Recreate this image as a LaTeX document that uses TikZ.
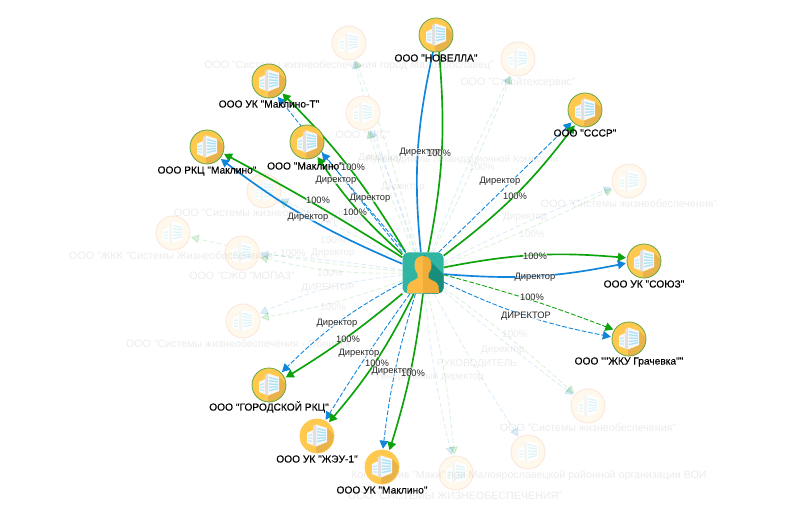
\documentclass[tikz,border=0pt]{standalone}
\usepackage{fontspec}
\setmainfont{Liberation Sans}
\newfontfamily\strongfont[FakeBold=0.12]{Liberation Sans}
\usetikzlibrary{arrows.meta}
\definecolor{gline}{HTML}{0CA20C}
\definecolor{bline}{HTML}{0F85DC}
\definecolor{disk}{HTML}{FFC84F}
\definecolor{diskdark}{HTML}{E8B34A}
\definecolor{ring}{HTML}{62A844}
\definecolor{teal}{HTML}{30B5A2}
\definecolor{tealdark}{HTML}{178D7C}
\definecolor{skin}{HTML}{FDBB45}
\definecolor{skindark}{HTML}{F0AB38}
\definecolor{palefill}{HTML}{FFF8EC}
\definecolor{palering}{HTML}{FCE8DC}
\definecolor{palewin}{HTML}{DDF4F8}
\definecolor{paleside}{HTML}{F6F6F4}
\tikzset{
  x=.75pt,y=-.75pt,
  hub/.style={circle,inner sep=0pt,outer sep=0pt,minimum size=27.5pt},
  tip/.style={-{Triangle[length=6pt,width=6.5pt]}},
  greensolid/.style={tip,draw=gline,line width=1.25pt},
  bluesolid/.style={tip,draw=bline,line width=1.25pt},
  bluedash/.style={tip,draw=bline,line width=.65pt,dash pattern=on 3.5pt off 1.5pt},
  greendash/.style={tip,draw=gline,line width=.65pt,dash pattern=on 3.5pt off 1.5pt},
  fadeblue/.style={tip,draw=bline,line width=.65pt,dash pattern=on 3.5pt off 2pt,opacity=.14},
  fadegreen/.style={tip,draw=gline,line width=.65pt,dash pattern=on 3.5pt off 2pt,opacity=.14},
  nlabel/.style={font=\strongfont\fontsize{7.65pt}{9pt}\selectfont,inner sep=0pt,text=black},
  elabel/.style={font=\fontsize{7pt}{8pt}\selectfont,inner sep=0pt,text=black!85,fill=white,fill opacity=.6,text opacity=1},
  fadelabel/.style={font=\fontsize{8pt}{9pt}\selectfont,inner sep=0pt,text=black,text opacity=.08},
  fadeelabel/.style={font=\fontsize{7.5pt}{8pt}\selectfont,inner sep=0pt,text=black,text opacity=.08},
  pics/bldg/.style={code={
    \fill[disk] (0,0) circle[radius=17];
    \begin{scope}
      \clip (0,0) circle[radius=17];
      \fill[diskdark] (10,-8) -- (24,6) -- (24,24) -- (-1,24) -- (-1,10.5) -- (10,6) -- cycle;
    \end{scope}
    \draw[#1,line width=.6pt] (0,0) circle[radius=17];
    \fill[black!3] (-10,-3) -- (-4,-6) -- (-4,-9) -- (-1,-11.5) -- (10,-8) -- (10,6) -- (-1,10.5) -- (-10,7) -- cycle;
    \fill[black!12] (-4,-9) -- (-1,-11.5) -- (-1,10.5) -- (-4,9.3) -- cycle;
    \draw[cyan!35,line width=.95pt] (0,-7.5) -- (9,-5.3);
    \draw[cyan!35,line width=.95pt] (0,-4.3) -- (9,-3);
    \draw[cyan!35,line width=.95pt] (0,-1) -- (9,-.6);
    \draw[cyan!35,line width=.95pt] (0,2.3) -- (9,1.6);
    \draw[cyan!35,line width=.95pt] (0,5.6) -- (9,3.6);
    \draw[cyan!30,line width=.8pt] (-9,-.5) -- (-5,-1.2);
    \draw[cyan!30,line width=.8pt] (-9,2.2) -- (-5,2);
    \draw[cyan!30,line width=.8pt] (-9,4.8) -- (-5,5.2);
  }},
  pics/palebldg/.style={code={
    \fill[palefill] (0,0) circle[radius=17];
    \draw[palering,line width=.7pt] (0,0) circle[radius=17];
    \fill[white] (-10,-3) -- (-4,-6) -- (-4,-9) -- (-1,-11.5) -- (10,-8) -- (10,6) -- (-1,10.5) -- (-10,7) -- cycle;
    \fill[paleside] (-4,-9) -- (-1,-11.5) -- (-1,10.5) -- (-4,9.3) -- cycle;
    \draw[palewin,line width=.95pt] (0,-7.5) -- (9,-5.3);
    \draw[palewin,line width=.95pt] (0,-4.3) -- (9,-3);
    \draw[palewin,line width=.95pt] (0,-1) -- (9,-.6);
    \draw[palewin,line width=.95pt] (0,2.3) -- (9,1.6);
    \draw[palewin,line width=.95pt] (0,5.6) -- (9,3.6);
    \draw[palewin,line width=.8pt] (-9,-.5) -- (-5,-1.2);
    \draw[palewin,line width=.8pt] (-9,2.2) -- (-5,2);
    \draw[palewin,line width=.8pt] (-9,4.8) -- (-5,5.2);
  }},
  pics/person/.style={code={
    \begin{scope}
      \clip[rounded corners=4pt] (-20.5,-20.5) rectangle (20.5,20.5);
      \fill[teal] (-21,-21) rectangle (21,21);
      \fill[tealdark] (1,-18) -- (21,2) -- (21,21) -- (0,21) -- cycle;
    \end{scope}
    \fill[skin] (0,-17) .. controls (-6,-17) and (-8.5,-13) .. (-8.5,-8) .. controls (-8.5,-4) and (-7,-1) .. (-5.5,1) -- (-5.5,5) .. controls (-9,8) and (-14,8) .. (-15.5,13) -- (-16,20) -- (0,20) -- cycle;
    \fill[skindark] (0,-17) .. controls (6,-17) and (8.5,-13) .. (8.5,-8) .. controls (8.5,-4) and (7,-1) .. (5.5,1) -- (5.5,5) .. controls (9,8) and (14,8) .. (15.5,13) -- (16,20) -- (0,20) -- cycle;
  }}
}
\begin{document}
\begin{tikzpicture}
\useasboundingbox (0,0) rectangle (800,524);
\fill[white] (0,0) rectangle (800,524);

% hub nodes
\node[inner sep=0pt,outer sep=0pt,minimum width=31pt,minimum height=31pt] (c) at (423,273) {};
\node[hub] (nov) at (436,35) {};
\node[hub] (sssr) at (585,110) {};
\node[hub] (soyuz) at (644,261) {};
\node[hub] (grach) at (629,339) {};
\node[hub] (makt) at (269,81) {};
\node[hub] (mak) at (307,142) {};
\node[hub] (rkc) at (207,147) {};
\node[hub] (gor) at (269,385) {};
\node[hub] (zheu) at (317,436) {};
\node[hub] (ukm) at (382,467) {};

\node[hub] (f1) at (349,43) {};
\node[hub] (f2) at (363,113) {};
\node[hub] (f3) at (264,191) {};
\node[hub] (f4) at (173,233) {};
\node[hub] (f5) at (242,253) {};
\node[hub] (f6) at (243,321) {};
\node[hub] (f7) at (518,59) {};
\node[hub] (f8) at (629,181) {};
\node[hub] (f9) at (588,406) {};
\node[hub] (f10) at (528,452) {};
\node[hub] (f11) at (456,473) {};

% faded edges
\draw[fadeblue] (c) to[bend left=2] (f1);
\draw[fadegreen] (c) to[bend right=3] (f1);
\draw[fadeblue] (c) to[bend right=2] (f2);
\draw[fadegreen] (c) to[bend left=3] (f2);
\draw[fadeblue] (c) to[bend right=2] (f3);
\draw[fadegreen] (c) to[bend left=4] (f3);
\draw[fadegreen] (c) to[bend left=4] (f4);
\draw[fadeblue] (c) to[bend right=2] (f5);
\draw[fadegreen] (c) to[bend left=7] (f5);
\draw[fadeblue] (c) to[bend right=9] (f6);
\draw[fadegreen] (c) to[bend left=5] (f6);
\draw[fadeblue] (c) to[bend left=2] (f7);
\draw[fadegreen] (c) to[bend right=2] (f7);
\draw[fadeblue] (c) to[bend left=3] (f8);
\draw[fadegreen] (c) to[bend right=2] (f8);
\draw[fadeblue] (c) to[bend right=2] (f9);
\draw[fadegreen] (c) to[bend left=3] (f9);
\draw[fadeblue] (c) to[bend right=2] (f10);
\draw[fadeblue] (c) to[bend right=4] (f11);
\draw[fadegreen] (c) to[bend left=4] (f11);

% faded icons
\foreach \f in {f1,f2,f3,f4,f5,f6,f7,f8,f9,f10,f11}
  \pic at (\f) {palebldg};

% faded labels
\node[fadelabel] (t1) at (349,66) {ООО "Системы жизнеобеспечения город Малоярославец"};
\node[fadelabel] (t2) at (363,135) {ООО "ККС"};
\node[fadelabel] (t3) at (262,213) {ООО "Системы жизнеобеспечения"};
\node[fadelabel] (t4) at (173,256) {ООО "ЖКК "Системы Жизнеобеспечения"};
\node[fadelabel] (t5) at (242,276) {ООО "СЖО "МОПАЗ"};
\node[fadelabel] (t6) at (240,344) {ООО "Системы жизнеобеспечения - Обнинск"};
\node[fadelabel] (t7) at (518,83) {ООО "Стройтехсервис"};
\node[fadelabel] (t8) at (629,204) {ООО "Системы жизнеобеспечения"};
\node[fadelabel] (t9) at (588,428) {ООО "Системы жизнеобеспечения"};
\node[fadelabel] (t10) at (529,476) {Кооператив "Маки" при Малоярославецкой районной организации ВОИ};
\node[fadelabel] (t11) at (455,496) {ООО "СИСТЕМЫ ЖИЗНЕОБЕСПЕЧЕНИЯ"};

\node[fadeelabel] (e1) at (462,160) {Руководитель ликвидационной Комиссии};
\node[fadeelabel] (e2) at (482,167) {100\%};
\node[fadeelabel] (e3) at (525,217) {Директор};
\node[fadeelabel] (e4) at (532,234) {100\%};
\node[fadeelabel] (e5) at (515,334) {100\%};
\node[fadeelabel] (e6) at (503,350) {Директор};
\node[fadeelabel] (e7) at (477,364) {РУКОВОДИТЕЛЬ};
\node[fadeelabel] (e8) at (430,377) {Генеральный директор};
\node[fadeelabel] (e9) at (333,253) {Директор};
\node[fadeelabel] (e10) at (293,253) {100\%};
\node[fadeelabel] (e11) at (330,273) {100\%};
\node[fadeelabel] (e12) at (328,288) {ДИРЕКТОР};
\node[fadeelabel] (e13) at (333,307) {100\%};
\node[fadeelabel] (e14) at (333,240) {100\%};
\node[fadeelabel] (e15) at (380,158) {Директор};
\node[fadeelabel] (e16) at (403,187) {Директор};
\node[fadeelabel] (e17) at (343,220) {Директор};

% active edges
\draw[bluesolid,-,shorten >=-2pt] (c.96) to[bend left=9] (nov.260);
\draw[greensolid,-,shorten >=-2pt] (c.76) to[bend right=8] (nov.280);
\draw[bluedash] (c.53) to (sssr.223);
\draw[greensolid] (c.40) to[bend right=8] (sssr.236);
\draw[greensolid] (c.15) to[bend left=8] (soyuz.170);
\draw[bluesolid] (c.357) to[bend right=8] (soyuz.187);
\draw[greendash] (c.355) to[bend left=3] (grach.149);
\draw[bluedash] (c.336) to[bend right=7] (grach.173);
\draw[bluedash] (c.135) to (makt.299);
\draw[greensolid] (c.130) to[bend right=7] (makt.317);
\draw[bluedash] (c.130) to (mak.324);
\draw[greensolid] (c.138) to[bend left=7] (mak.305);
\draw[greensolid] (c.143) to[bend right=2] (rkc.338);
\draw[bluesolid] (c.156) to[bend left=7] (rkc.319);
\draw[bluedash] (c.205) to[bend right=8] (gor.45);
\draw[greensolid] (c.225) to[bend left=4] (gor.24);
\draw[bluedash] (c.238) to[bend right=2] (zheu.62);
\draw[greensolid] (c.246) to[bend left=7] (zheu.49);
\draw[bluedash] (c.250) to[bend right=5] (ukm.87);
\draw[greensolid] (c.270) to[bend left=5] (ukm.66);

% active icons
\foreach \f in {nov,sssr,soyuz,grach,makt,mak,rkc,gor}
  \pic at (\f) {bldg=ring};
\foreach \f in {zheu,ukm}
  \pic at (\f) {bldg=disk};
\pic at (c) {person};

% active labels
\node[nlabel] (l1) at (436,58) {ООО "НОВЕЛЛА"};
\node[nlabel] (l2) at (585,133) {ООО "СССР"};
\node[nlabel] (l3) at (644,284) {ООО УК "СОЮЗ"};
\node[nlabel] (l4) at (629,362) {ООО ""ЖКУ Грачевка""};
\node[nlabel] (l5) at (269,104) {ООО УК "Маклино-Т"};
\node[nlabel] (l6) at (305,166) {ООО "Маклино"};
\node[nlabel] (l7) at (207,171) {ООО РКЦ "Маклино"};
\node[nlabel] (l8) at (269,407) {ООО "ГОРОДСКОЙ РКЦ"};
\node[nlabel] (l9) at (317,459) {ООО УК "ЖЭУ-1"};
\node[nlabel] (l10) at (382,490) {ООО УК "Маклино"};

% edge labels
\node[elabel] (a1) at (420,152) {Директор};
\node[elabel] (a2) at (439,153) {100\%};
\node[elabel] (a3) at (500,181) {Директор};
\node[elabel] (a4) at (515,196) {100\%};
\node[elabel] (a5) at (535,256) {100\%};
\node[elabel] (a6) at (535,277) {Директор};
\node[elabel] (a7) at (532,297) {100\%};
\node[elabel] (a8) at (526,316) {ДИРЕКТОР};
\node[elabel] (a9) at (353,167) {100\%};
\node[elabel] (a10) at (370,198) {Директор};
\node[elabel] (a11) at (336,180) {Директор};
\node[elabel] (a12) at (355,212) {100\%};
\node[elabel] (a13) at (318,200) {100\%};
\node[elabel] (a14) at (308,217) {Директор};
\node[elabel] (a15) at (337,323) {Директор};
\node[elabel] (a16) at (348,339) {100\%};
\node[elabel] (a17) at (359,353) {Директор};
\node[elabel] (a18) at (377,363) {100\%};
\node[elabel] (a19) at (392,371) {Директор};
\node[elabel] (a20) at (413,373) {100\%};
\end{tikzpicture}
\end{document}
